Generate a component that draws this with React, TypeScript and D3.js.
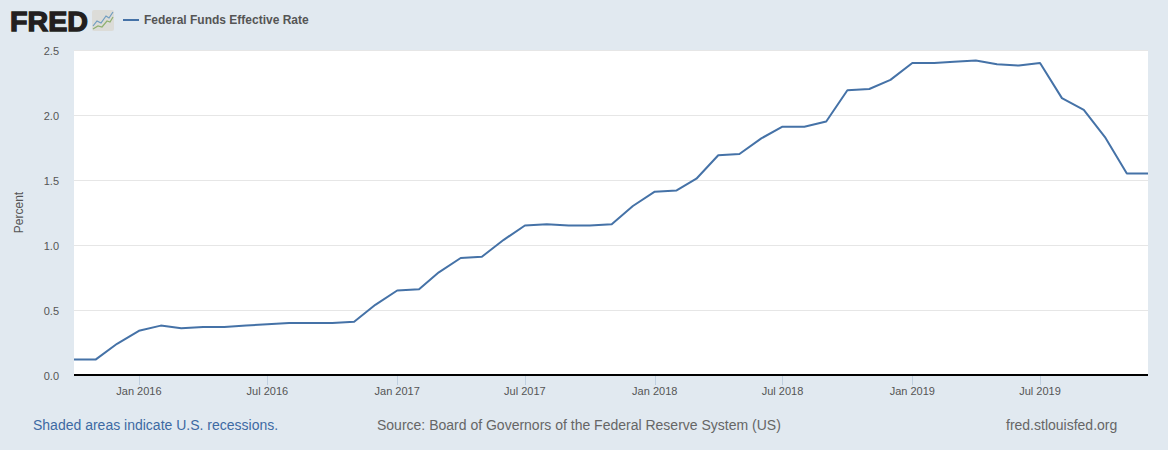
import React, { useEffect, useRef } from 'react';
import * as d3 from 'd3';

const months = [
  '2015-10', '2015-11', '2015-12',
  '2016-01', '2016-02', '2016-03', '2016-04', '2016-05', '2016-06', '2016-07', '2016-08', '2016-09', '2016-10', '2016-11', '2016-12',
  '2017-01', '2017-02', '2017-03', '2017-04', '2017-05', '2017-06', '2017-07', '2017-08', '2017-09', '2017-10', '2017-11', '2017-12',
  '2018-01', '2018-02', '2018-03', '2018-04', '2018-05', '2018-06', '2018-07', '2018-08', '2018-09', '2018-10', '2018-11', '2018-12',
  '2019-01', '2019-02', '2019-03', '2019-04', '2019-05', '2019-06', '2019-07', '2019-08', '2019-09', '2019-10', '2019-11', '2019-12'
];
const rates = [
  0.12, 0.12, 0.24,
  0.34, 0.38, 0.36, 0.37, 0.37, 0.38, 0.39, 0.40, 0.40, 0.40, 0.41, 0.54,
  0.65, 0.66, 0.79, 0.90, 0.91, 1.04, 1.15, 1.16, 1.15, 1.15, 1.16, 1.30,
  1.41, 1.42, 1.51, 1.69, 1.70, 1.82, 1.91, 1.91, 1.95, 2.19, 2.20, 2.27,
  2.40, 2.40, 2.41, 2.42, 2.39, 2.38, 2.40, 2.13, 2.04, 1.83, 1.55, 1.55
];
const yTicks = [0, 0.5, 1, 1.5, 2, 2.5];
const xTickMonths = ['2016-01', '2016-07', '2017-01', '2017-07', '2018-01', '2018-07', '2019-01', '2019-07'];

const seriesName = 'Federal Funds Effective Rate';
const font = '"Liberation Sans", Arial, sans-serif';
const parseMonth = d3.timeParse('%Y-%m');
const formatMonth = d3.timeFormat('%b %Y');

const App: React.FC = () => {
  const svgRef = useRef<SVGSVGElement>(null);

  useEffect(() => {
    if (!svgRef.current) return;
    const margin = { top: 50, right: 20, bottom: 75, left: 74 };
    const width = 1168;
    const height = 450;

    const svg = d3.select(svgRef.current);
    svg.selectAll('*').remove();
    svg.style('font-family', font);

    const dates = months.map(m => parseMonth(m) as Date);
    const x = d3.scaleTime()
      .domain(d3.extent(dates) as [Date, Date])
      .range([margin.left, width - margin.right]);
    const y = d3.scaleLinear()
      .domain([0, 2.5])
      .range([height - margin.bottom, margin.top]);

    svg.append('rect').attr('width', width).attr('height', height).attr('fill', '#e1e9f0');
    svg.append('rect')
      .attr('x', margin.left)
      .attr('y', margin.top)
      .attr('width', width - margin.left - margin.right)
      .attr('height', height - margin.top - margin.bottom)
      .attr('fill', '#ffffff');

    // y gridlines and labels
    svg.selectAll('.grid')
      .data(yTicks.filter(t => t > 0))
      .enter()
      .append('line')
      .attr('x1', margin.left)
      .attr('x2', width - margin.right)
      .attr('y1', d => Math.round(y(d)) + 0.5)
      .attr('y2', d => Math.round(y(d)) + 0.5)
      .attr('stroke', '#e6e6e6');

    svg.selectAll('.ylabel')
      .data(yTicks)
      .enter()
      .append('text')
      .attr('x', 59)
      .attr('y', d => y(d) + 5)
      .attr('text-anchor', 'end')
      .attr('font-size', 11)
      .attr('fill', '#555')
      .text(d => d.toFixed(1));

    svg.append('text')
      .attr('transform', `translate(23,${(margin.top + height - margin.bottom) / 2}) rotate(-90)`)
      .attr('text-anchor', 'middle')
      .attr('font-size', 12)
      .attr('fill', '#555')
      .text('Percent');

    // x ticks
    const xTicks = xTickMonths.map(m => parseMonth(m) as Date);
    svg.selectAll('.xtick')
      .data(xTicks)
      .enter()
      .append('line')
      .attr('x1', d => Math.round(x(d)) + 0.5)
      .attr('x2', d => Math.round(x(d)) + 0.5)
      .attr('y1', height - margin.bottom)
      .attr('y2', height - margin.bottom + 10)
      .attr('stroke', '#c0d0e0');

    svg.selectAll('.xlabel')
      .data(xTicks)
      .enter()
      .append('text')
      .attr('x', d => x(d))
      .attr('y', 395)
      .attr('text-anchor', 'middle')
      .attr('font-size', 11)
      .attr('fill', '#555')
      .text(d => formatMonth(d));

    svg.append('line')
      .attr('x1', margin.left)
      .attr('x2', width - margin.right)
      .attr('y1', height - margin.bottom)
      .attr('y2', height - margin.bottom)
      .attr('stroke', '#000')
      .attr('stroke-width', 2);

    const line = d3.line<number>()
      .x((_, i) => x(dates[i]))
      .y(d => y(d));

    svg.append('path')
      .datum(rates)
      .attr('d', line)
      .attr('fill', 'none')
      .attr('stroke', '#4572a7')
      .attr('stroke-width', 2)
      .attr('stroke-linejoin', 'round');

    // legend
    svg.append('line')
      .attr('x1', 123)
      .attr('x2', 139)
      .attr('y1', 20)
      .attr('y2', 20)
      .attr('stroke', '#4572a7')
      .attr('stroke-width', 2);
    svg.append('text')
      .attr('x', 144)
      .attr('y', 24)
      .attr('font-size', 12)
      .attr('font-weight', 'bold')
      .attr('fill', '#555')
      .text(seriesName);

    // logo
    svg.append('text')
      .attr('x', 10)
      .attr('y', 30.5)
      .attr('font-size', 28)
      .attr('font-weight', 'bold')
      .attr('textLength', 78)
      .attr('lengthAdjust', 'spacingAndGlyphs')
      .attr('stroke', '#231f20')
      .attr('stroke-width', 1.3)
      .attr('fill', '#231f20')
      .text('FRED');
    svg.append('rect')
      .attr('x', 92)
      .attr('y', 10)
      .attr('width', 22)
      .attr('height', 21)
      .attr('rx', 2)
      .attr('fill', '#dcdcd8');
    svg.append('path')
      .attr('d', 'M93,26 L97,21 L101,23 L106,16 L109,18 L113,12')
      .attr('fill', 'none')
      .attr('stroke', '#6f9cc0')
      .attr('stroke-width', 1.2);
    svg.append('path')
      .attr('d', 'M93,29 L98,26 L102,27 L107,21 L110,22 L113,17')
      .attr('fill', 'none')
      .attr('stroke', '#8fb070')
      .attr('stroke-width', 1.2);

    // footer
    const footer = [
      { x: 33, label: 'Shaded areas indicate U.S. recessions.', fill: '#3d6aa3' },
      { x: 377, label: 'Source: Board of Governors of the Federal Reserve System (US)', fill: '#666' },
      { x: 1006, label: 'fred.stlouisfed.org', fill: '#666' }
    ];
    svg.selectAll('.footer')
      .data(footer)
      .enter()
      .append('text')
      .attr('x', d => d.x)
      .attr('y', 430)
      .attr('font-size', 14)
      .attr('fill', d => d.fill)
      .text(d => d.label);
  }, []);

  return (
    <svg
      ref={svgRef}
      width={1168}
      height={450}
      style={{ position: 'fixed', left: 0, top: 0, display: 'block' }}
    />
  );
};

export default App;
